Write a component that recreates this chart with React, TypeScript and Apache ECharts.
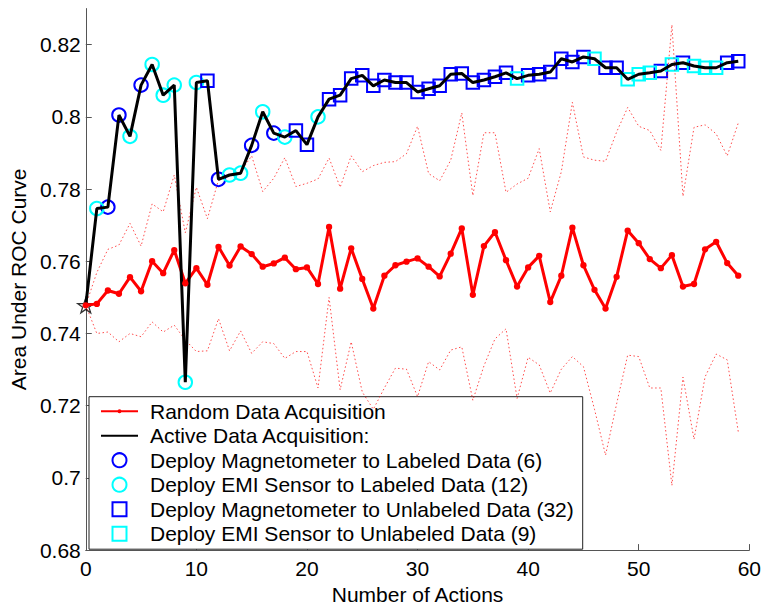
import React, { useEffect, useRef } from "react";
import * as echarts from "echarts";

// Area under ROC curve after each action (x = 0..59)
const randomAUC = [
  0.7478, 0.7482, 0.7519, 0.751, 0.7556, 0.7517, 0.76, 0.7567, 0.7631, 0.7539,
  0.7581, 0.7535, 0.764, 0.7588, 0.7641, 0.762, 0.7585, 0.7594, 0.761, 0.7578,
  0.7583, 0.7537, 0.7695, 0.7524, 0.7636, 0.7551, 0.7469, 0.756, 0.7589, 0.7599,
  0.7608, 0.7585, 0.7558, 0.7621, 0.7691, 0.7507, 0.7642, 0.7681, 0.7603, 0.753,
  0.7583, 0.7615, 0.7487, 0.756, 0.7693, 0.7589, 0.7521, 0.7469, 0.7557, 0.7685,
  0.765, 0.7606, 0.7581, 0.7617, 0.753, 0.7537, 0.7633, 0.7654, 0.7595, 0.756,
];
const randomUpper = [
  0.7478, 0.7569, 0.7633, 0.7645, 0.7705, 0.7642, 0.7759, 0.7737, 0.7839, 0.7679,
  0.7805, 0.7718, 0.7825, 0.7839, 0.7848, 0.7892, 0.7793, 0.783, 0.7887, 0.7807,
  0.7816, 0.7828, 0.7886, 0.7805, 0.7892, 0.7848, 0.7865, 0.7874, 0.7876, 0.7898,
  0.7974, 0.7843, 0.7823, 0.788, 0.8011, 0.7782, 0.7956, 0.7956, 0.7791, 0.7814,
  0.783, 0.7912, 0.7737, 0.7848, 0.804, 0.7889, 0.788, 0.7877, 0.7958, 0.8026,
  0.7974, 0.7962, 0.7907, 0.8255, 0.778, 0.7971, 0.7978, 0.7953, 0.7892, 0.7983,
];
const randomLower = [
  0.7478, 0.74, 0.7404, 0.7377, 0.74, 0.7391, 0.7432, 0.7404, 0.7423, 0.7382,
  0.735, 0.7352, 0.7441, 0.7352, 0.7407, 0.7345, 0.7377, 0.7372, 0.7331, 0.735,
  0.735, 0.7249, 0.75, 0.7244, 0.7377, 0.7238, 0.719, 0.7249, 0.7304, 0.7301,
  0.7225, 0.7322, 0.7299, 0.7354, 0.7363, 0.7215, 0.731, 0.7385, 0.7413, 0.722,
  0.7334, 0.7313, 0.7235, 0.7301, 0.7336, 0.7308, 0.719, 0.7063, 0.7205, 0.734,
  0.7336, 0.7249, 0.7249, 0.6979, 0.7279, 0.7107, 0.728, 0.7343, 0.7327, 0.7128,
];
const activeAUC = [
  0.7478, 0.7746, 0.775, 0.8005, 0.7946, 0.8088, 0.8145, 0.806, 0.8088, 0.7265,
  0.8095, 0.81, 0.7827, 0.7839, 0.7844, 0.7921, 0.8014, 0.7955, 0.7944, 0.7962,
  0.7923, 0.8, 0.8049, 0.806, 0.8106, 0.8115, 0.8086, 0.8102, 0.8095, 0.8095,
  0.8069, 0.8078, 0.8086, 0.8118, 0.812, 0.8095, 0.8102, 0.8111, 0.8122, 0.8106,
  0.8115, 0.8118, 0.8124, 0.8161, 0.8152, 0.8166, 0.8161, 0.8136, 0.8136, 0.8104,
  0.8118, 0.8122, 0.8127, 0.8145, 0.815, 0.8141, 0.8136, 0.8136, 0.815, 0.8154,
];

// Which action was taken at each step
const magLabeledSteps = [2, 3, 5, 12, 15, 17];
const emiLabeledSteps = [1, 4, 6, 7, 8, 9, 10, 13, 14, 16, 18, 21];
const magUnlabeledSteps = [
  11, 19, 20, 22, 23, 24, 25, 26, 27, 28, 29, 30, 31, 32, 33, 34, 35, 36, 37, 38,
  40, 41, 42, 43, 44, 45, 47, 48, 52, 54, 58, 59,
];
const emiUnlabeledSteps = [39, 46, 49, 50, 51, 53, 55, 56, 57];

const xTicks = [0, 10, 20, 30, 40, 50, 60];
const yTicks = [0.68, 0.7, 0.72, 0.74, 0.76, 0.78, 0.8, 0.82];

const names = {
  random: "Random Data Acquisition",
  active: "Active Data Acquisition:",
  magL: "Deploy Magnetometer to Labeled Data (6)",
  emiL: "Deploy EMI Sensor to Labeled Data (12)",
  magU: "Deploy Magnetometer to Unlabeled Data (32)",
  emiU: "Deploy EMI Sensor to Unlabeled Data (9)",
};

const FONT = "'Liberation Sans', Arial, Helvetica, sans-serif";
const BLUE = "#0000ff";
const CYAN = "#00ffff";
const STAR =
  "path://M50,0 L61.8,35.1 L98.1,35.1 L68.8,56.7 L79.4,91 L50,70 L20.6,91 L31.2,56.7 L1.9,35.1 L38.2,35.1 Z";
// small dot inside a larger (empty) box, so the legend icon's dot stays small
const SMALL_DOT = "path://M0,0 M20,20 M6.5,10 A3.5,3.5 0 1 1 13.5,10 A3.5,3.5 0 1 1 6.5,10 Z";
const SQUARE = "path://M0,0 L10,0 L10,10 L0,10 Z";

const toPairs = (arr: number[]) => arr.map((v, i) => [i, v]);
const stepPairs = (steps: number[]) => steps.map((s) => [s, activeAUC[s]]);

export default function App() {
  const ref = useRef<HTMLDivElement>(null);

  useEffect(() => {
    document.body.style.margin = "0";
    if (!ref.current) return;
    const chart = echarts.init(ref.current, null, { renderer: "svg" });
    const axisColor = "#555";
    const markerSeries = (name: string, steps: number[], symbol: string, color: string, size: number) => ({
      name,
      type: "scatter",
      data: stepPairs(steps),
      symbol,
      symbolSize: size,
      itemStyle: { color: "transparent", borderColor: color, borderWidth: 2, opacity: 1 },
      silent: true,
    });

    chart.setOption({
      animation: false,
      backgroundColor: "#fff",
      textStyle: { fontFamily: FONT },
      grid: { left: 81.7, right: 12, top: 8.55, bottom: 54.7, containLabel: false },
      graphic: [
        {
          type: "rect",
          z: 3,
          silent: true,
          shape: { x: 89, y: 396.7, width: 493.7, height: 152.5 },
          style: { fill: "#fff", stroke: "#222", lineWidth: 1 },
        },
      ],
      xAxis: {
        type: "value",
        min: 0,
        max: 60,
        interval: 10,
        name: "Number of Actions",
        nameLocation: "middle",
        nameGap: 33,
        nameTextStyle: { fontSize: 21, color: "#000", fontFamily: FONT },
        axisLine: { show: true, lineStyle: { color: axisColor, width: 1 } },
        axisTick: { show: true, inside: true, length: 6, customValues: xTicks, lineStyle: { color: axisColor } },
        axisLabel: { customValues: xTicks, margin: 8, fontSize: 21, color: "#000", fontFamily: FONT },
        splitLine: { show: false },
      },
      yAxis: {
        type: "value",
        min: 0.68,
        max: 0.83,
        name: "Area Under ROC Curve",
        nameLocation: "middle",
        nameGap: 52,
        nameTextStyle: { fontSize: 21, color: "#000", fontFamily: FONT },
        axisLine: { show: true, lineStyle: { color: axisColor, width: 1 } },
        axisTick: { show: true, inside: true, length: 6, customValues: yTicks, lineStyle: { color: axisColor } },
        axisLabel: {
          customValues: yTicks,
          margin: 5,
          fontSize: 21,
          color: "#000",
          fontFamily: FONT,
          formatter: (v: number) => String(Number(v.toFixed(2))),
        },
        splitLine: { show: false },
      },
      legend: {
        orient: "vertical",
        left: 89,
        top: 396.7,
        itemWidth: 37,
        itemHeight: 14,
        itemGap: 3.5,
        padding: [4, 10, 5, 11],
        borderWidth: 0,
        backgroundColor: "transparent",
        selectedMode: false,
        symbolKeepAspect: true,
        textStyle: { fontSize: 21, color: "#000", fontFamily: FONT, padding: [0, 0, 0, 7] },
        data: [
          { name: names.random },
          { name: names.active, itemStyle: { color: "transparent", borderColor: "transparent", borderWidth: 0 } },
          { name: names.magL, icon: "circle", itemStyle: { color: "transparent", borderColor: BLUE, borderWidth: 2 } },
          { name: names.emiL, icon: "circle", itemStyle: { color: "transparent", borderColor: CYAN, borderWidth: 2 } },
          { name: names.magU, icon: SQUARE, symbolKeepAspect: true, itemStyle: { color: "transparent", borderColor: BLUE, borderWidth: 2 } },
          { name: names.emiU, icon: SQUARE, symbolKeepAspect: true, itemStyle: { color: "transparent", borderColor: CYAN, borderWidth: 2 } },
        ],
      },
      series: [
        {
          name: "upper",
          type: "line",
          data: toPairs(randomUpper),
          symbol: "none",
          silent: true,
          clip: false,
          lineStyle: { color: "rgba(255,0,0,0.7)", width: 1, type: [1.5, 2.5] },
        },
        {
          name: "lower",
          type: "line",
          data: toPairs(randomLower),
          symbol: "none",
          silent: true,
          clip: false,
          lineStyle: { color: "rgba(255,0,0,0.7)", width: 1, type: [1.5, 2.5] },
        },
        {
          name: names.random,
          type: "line",
          data: toPairs(randomAUC),
          symbol: SMALL_DOT,
          symbolSize: 18,
          symbolKeepAspect: true,
          showAllSymbol: true,
          silent: true,
          lineStyle: { color: "#ff0000", width: 3 },
          itemStyle: { color: "#ff0000" },
        },
        markerSeries(names.magL, magLabeledSteps, "circle", BLUE, 13.5),
        markerSeries(names.emiL, emiLabeledSteps, "circle", CYAN, 13.5),
        markerSeries(names.magU, magUnlabeledSteps, "rect", BLUE, 12.5),
        markerSeries(names.emiU, emiUnlabeledSteps, "rect", CYAN, 12.5),
        {
          name: names.active,
          type: "line",
          data: toPairs(activeAUC),
          symbol: "none",
          silent: true,
          lineStyle: { color: "#000", width: 3 },
          itemStyle: { color: "#000" },
        },
        {
          name: "start",
          type: "scatter",
          data: [[0, activeAUC[0]]],
          symbol: STAR,
          symbolSize: 16,
          symbolKeepAspect: true,
          silent: true,
          itemStyle: { color: "rgba(0,0,0,0)", borderColor: "#000", borderWidth: 1.3 },
        },
      ],
    });
    return () => chart.dispose();
  }, []);

  return <div ref={ref} style={{ width: 764, height: 610 }} />;
}
